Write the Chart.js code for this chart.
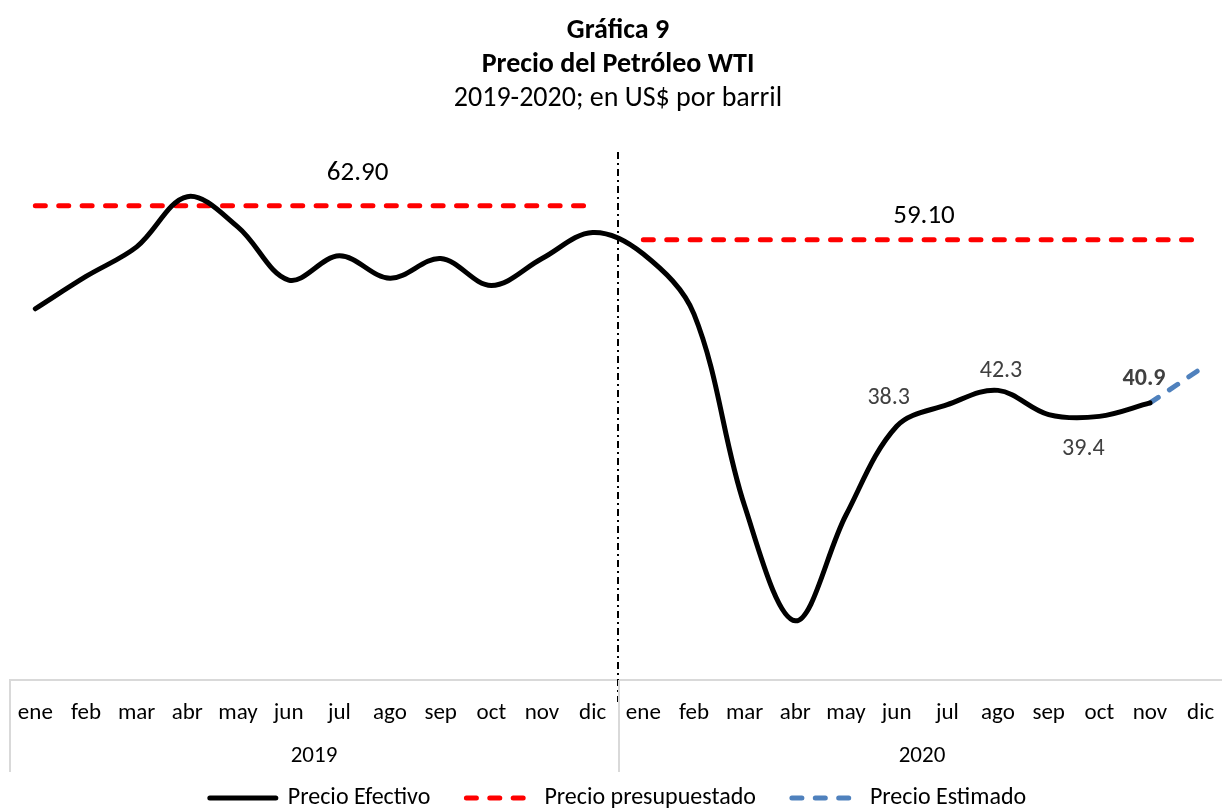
<!DOCTYPE html>
<html>
<head>
<meta charset="utf-8">
<title>Precio del Petróleo WTI</title>
<script src="https://cdn.jsdelivr.net/npm/chart.js@4.4.0/dist/chart.umd.min.js"></script>
<style>
  body { margin: 0; background: #fff; overflow: hidden; }
  #oilChart { display: block; }
</style>
</head>
<body>
<canvas id="oilChart" width="1226" height="808"></canvas>
<script>
// Chart data (US$ per barrel)
const months = ['ene', 'feb', 'mar', 'abr', 'may', 'jun', 'jul', 'ago', 'sep', 'oct', 'nov', 'dic'];
const years = ['2019', '2020'];
const categories = months.concat(months);

const precioEfectivo = [
    51.4, 55.0, 58.3, 63.9, 60.5, 54.6, 57.3, 54.8, 57.0, 54.0, 57.0, 59.9,
    57.5, 50.8, 29.4, 16.6, 28.4, 38.3, 40.7, 42.3, 39.6, 39.4, 40.9, null
];
const precioPresupuestado = [
    62.9, 62.9, 62.9, 62.9, 62.9, 62.9, 62.9, 62.9, 62.9, 62.9, 62.9, 62.9,
    59.1, 59.1, 59.1, 59.1, 59.1, 59.1, 59.1, 59.1, 59.1, 59.1, 59.1, 59.1
];
const precioEstimado = [
    null, null, null, null, null, null, null, null, null, null, null, null,
    null, null, null, null, null, null, null, null, null, null, 40.9, 44.7
];
const budgetLabels = ['62.90', '59.10'];

// which points of the effective price get a value label
const labelIdx = [17, 19, 21, 22];
const boldIdx = [22];

const FONT = 'Carlito, Calibri, Lato, sans-serif';
const GRAY = '#d9d9d9';
const RED = '#ff0000';
const BLUE = '#4f81bd';

Chart.defaults.font.family = FONT;
Chart.defaults.color = '#000';

// vertical dash-dot divider between the two years
const yearDivider = {
    id: 'yearDivider',
    beforeDatasetsDraw(chart) {
        const x = chart.scales.x;
        const px = (x.getPixelForValue(11) + x.getPixelForValue(12)) / 2;
        const ctx = chart.ctx;
        ctx.save();
        ctx.strokeStyle = '#000';
        ctx.lineWidth = 2;
        ctx.setLineDash([7, 4, 2, 4]);
        ctx.beginPath();
        ctx.moveTo(px, chart.chartArea.top + 10);
        ctx.lineTo(px, chart.chartArea.bottom + 22);
        ctx.stroke();
        ctx.restore();
    }
};

// second level of the category axis: years and group separators
const yearAxis = {
    id: 'yearAxis',
    afterDraw(chart) {
        const x = chart.scales.x;
        const ctx = chart.ctx;
        const top = chart.chartArea.bottom;
        const mid = (x.getPixelForValue(11) + x.getPixelForValue(12)) / 2;
        ctx.save();
        ctx.strokeStyle = GRAY;
        ctx.lineWidth = 2;
        ctx.beginPath();
        [x.left, mid + 1].forEach(px => {
            ctx.moveTo(px, top);
            ctx.lineTo(px, top + 92);
        });
        ctx.stroke();
        ctx.fillStyle = '#000';
        ctx.font = '23px ' + FONT;
        ctx.textAlign = 'center';
        ctx.textBaseline = 'middle';
        years.forEach((yr, i) => {
            const px = (x.getPixelForValue(i * 12) + x.getPixelForValue(i * 12 + 11)) / 2;
            ctx.fillText(yr, px, top + 76);
        });
        ctx.restore();
    }
};

// value labels for the budget lines and some points
const valueLabels = {
    id: 'valueLabels',
    afterDatasetsDraw(chart) {
        const ctx = chart.ctx;
        const x = chart.scales.x;
        const y = chart.scales.y;
        ctx.save();
        ctx.textAlign = 'center';
        ctx.textBaseline = 'middle';

        // budget line labels
        ctx.fillStyle = '#000';
        ctx.font = '27px ' + FONT;
        ctx.fillText(budgetLabels[0], x.getPixelForValue(6.36), y.getPixelForValue(precioPresupuestado[0]) - 32);
        ctx.fillText(budgetLabels[1], x.getPixelForValue(17.54), y.getPixelForValue(precioPresupuestado[12]) - 23);

        // point labels
        const offsets = { 17: [-8, -28], 19: [3, -19], 21: [-16, 33], 22: [-6, -24] };
        const meta = chart.getDatasetMeta(0);
        ctx.fillStyle = '#404040';
        labelIdx.forEach(i => {
            const pt = meta.data[i];
            ctx.font = (boldIdx.includes(i) ? 'bold ' : '') + '24px ' + FONT;
            ctx.fillText(precioEfectivo[i].toFixed(1), pt.x + offsets[i][0], pt.y + offsets[i][1]);
        });
        ctx.restore();
    }
};

const ctx = document.getElementById('oilChart').getContext('2d');
new Chart(ctx, {
    type: 'line',
    data: {
        labels: categories,
        datasets: [{
            label: 'Precio Efectivo',
            data: precioEfectivo,
            borderColor: '#000',
            backgroundColor: '#000',
            borderWidth: 5,
            borderCapStyle: 'round',
            tension: 0.35,
            pointRadius: 0,
            spanGaps: false,
            order: 1
        }, {
            label: 'Precio presupuestado',
            data: precioPresupuestado,
            borderColor: RED,
            backgroundColor: RED,
            borderWidth: 5,
            borderDash: [10, 13.4],
            borderCapStyle: 'round',
            pointRadius: 0,
            segment: {
                // no line across the change of year
                borderColor: c => c.p0DataIndex === 11 ? 'transparent' : RED
            },
            order: 2
        }, {
            label: 'Precio Estimado',
            data: precioEstimado,
            borderColor: BLUE,
            backgroundColor: BLUE,
            borderWidth: 5,
            borderDash: [10, 13.4],
            borderCapStyle: 'round',
            pointRadius: 0,
            order: 3
        }]
    },
    options: {
        responsive: false,
        animation: false,
        layout: {
            autoPadding: false,
            padding: { left: 10, right: 0, top: 0, bottom: -12 }
        },
        scales: {
            x: {
                type: 'category',
                offset: true,
                grid: { display: false, drawTicks: false },
                border: { display: true, color: GRAY, width: 2 },
                ticks: {
                    padding: 0,
                    maxRotation: 0,
                    autoSkip: false,
                    font: { size: 23, lineHeight: '66px' },
                    color: '#000'
                },
                afterFit: scale => { scale.height = 70; }
            },
            y: {
                display: false,
                min: 10,
                max: 70
            }
        },
        plugins: {
            title: {
                display: true,
                text: ['Gráfica 9', 'Precio del Petróleo WTI'],
                color: '#000',
                font: { size: 28, weight: 'bold', lineHeight: 1.214 },
                padding: { top: 14, bottom: 0 }
            },
            subtitle: {
                display: true,
                text: '2019-2020; en US$ por barril',
                color: '#000',
                font: { size: 28, lineHeight: 1.214 },
                padding: { top: 0, bottom: 26 }
            },
            legend: {
                position: 'bottom',
                labels: {
                    usePointStyle: true,
                    pointStyle: 'line',
                    pointStyleWidth: 66,
                    padding: 36,
                    color: '#000',
                    font: { size: 24 },
                    // keep the dash pattern of each series in the legend
                    generateLabels: chart => Chart.defaults.plugins.legend.labels.generateLabels(chart).map(item => {
                        const ds = chart.data.datasets[item.datasetIndex];
                        item.lineDash = ds.borderDash || [];
                        item.lineCap = 'round';
                        item.lineWidth = 5;
                        item.strokeStyle = ds.borderColor;
                        return item;
                    })
                }
            },
            tooltip: { enabled: false }
        }
    },
    plugins: [yearDivider, yearAxis, valueLabels]
});
</script>
</body>
</html>
